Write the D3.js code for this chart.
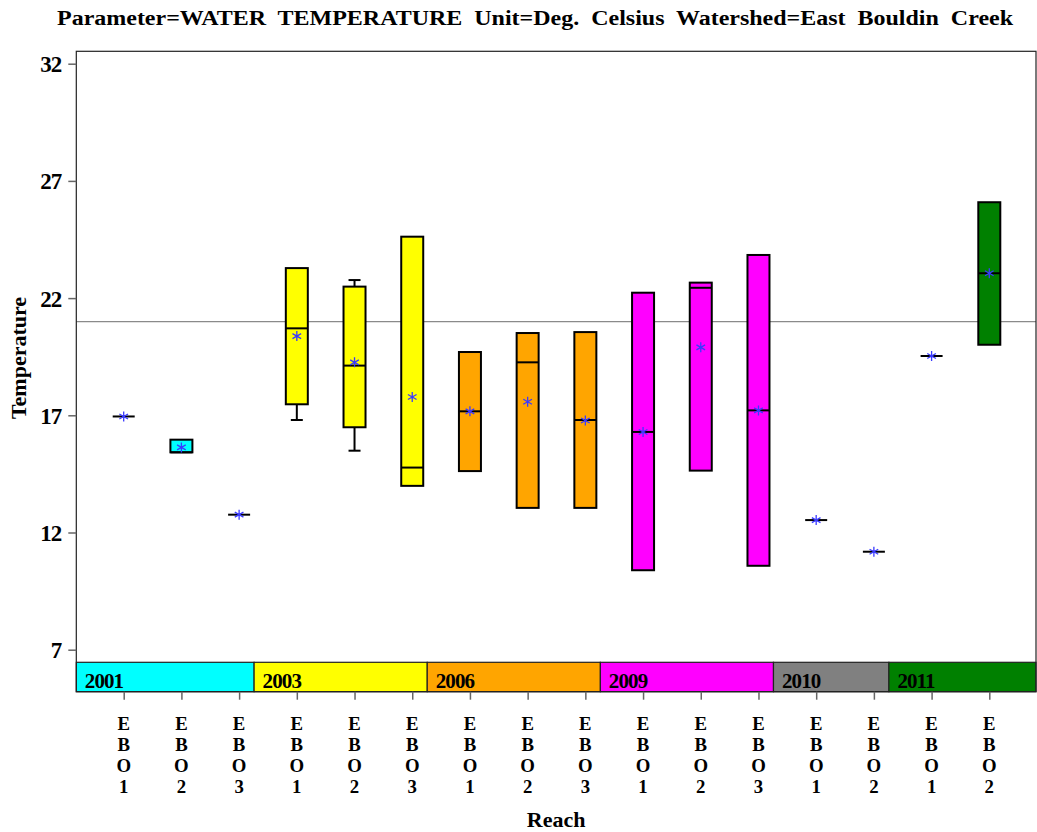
<!DOCTYPE html>
<html>
<head>
<meta charset="utf-8">
<script src="https://cdn.jsdelivr.net/npm/d3@7"></script>
<style>
html, body { margin: 0; padding: 0; background: #fff; }
svg { display: block; }
text { font-family: "Liberation Serif", "DejaVu Serif", serif; font-weight: bold; fill: #000; }
</style>
</head>
<body>
<svg id="chart" width="1037" height="832"></svg>
<script>
// ---- data ----
const reaches = ["EBO1","EBO2","EBO3","EBO1","EBO2","EBO3","EBO1","EBO2","EBO3","EBO1","EBO2","EBO3","EBO1","EBO2","EBO1","EBO2"];
const years   = ["2001","2001","2001","2003","2003","2003","2006","2006","2006","2009","2009","2009","2010","2010","2011","2011"];
const minVals = [16.95,15.42,12.76,16.80,15.49,13.99,14.62,13.05,13.05,10.39,14.64,10.58,12.53,11.18,19.53,20.01];
const q1Vals  = [16.95,15.42,12.76,17.47,16.49,13.99,14.62,13.05,13.05,10.39,14.64,10.58,12.53,11.18,19.53,20.01];
const medVals = [16.95,15.42,12.76,20.71,19.12,14.77,17.17,19.26,16.80,16.29,22.44,17.21,12.53,11.18,19.53,23.06];
const q3Vals  = [16.95,15.96,12.76,23.28,22.49,24.62,19.70,20.51,20.55,22.23,22.66,23.84,12.53,11.18,19.53,26.09];
const maxVals = [16.95,15.96,12.76,23.28,22.77,24.62,19.70,20.51,20.55,22.23,22.66,23.84,12.53,11.18,19.53,26.09];
const meanVals= [16.95,15.63,12.76,20.38,19.26,17.78,17.17,17.58,16.78,16.29,19.90,17.21,12.53,11.18,19.53,23.06];
const yearGroups = ["2001","2003","2006","2009","2010","2011"];
const yearColors = ["#00FFFF","#FFFF00","#FFA500","#FF00FF","#808080","#008000"];
const yTicks = [7,12,17,22,27,32];
const refValue = 21;
const titleText = "Parameter=WATER  TEMPERATURE  Unit=Deg.  Celsius  Watershed=East  Bouldin  Creek";
const xTitle = "Reach";
const yTitle = "Temperature";

// ---- layout ----
const svg = d3.select("#chart");
const L = 76.3, R = 1036, T = 51.3, B = 691.7, stripTop = 662.3;
const x = d3.scaleLinear().domain([1, 16]).range([123.7, 989.3]);
const y = d3.scaleLinear().domain([7, 32]).range([649.7, 63.7]);
const color = d3.scaleOrdinal().domain(yearGroups).range(yearColors);
const boxW = 22, capW = 12;

const data = reaches.map((r, i) => ({
  i: i + 1, reach: r, year: years[i],
  min: minVals[i], q1: q1Vals[i], med: medVals[i], q3: q3Vals[i], max: maxVals[i], mean: meanVals[i]
}));

// title
svg.append("text").attr("x", (57 + 1013) / 2).attr("y", 24.5)
  .attr("text-anchor", "middle").attr("font-size", 20)
  .attr("textLength", 956).attr("lengthAdjust", "spacingAndGlyphs")
  .style("white-space", "pre").text(titleText);

// reference line
svg.append("line").attr("x1", L).attr("x2", R)
  .attr("y1", y(refValue)).attr("y2", y(refValue))
  .attr("stroke", "#8a8a8a").attr("stroke-width", 1.2);

// boxes, whiskers, medians, means
const g = svg.append("g");
data.forEach(d => {
  if (d.max > d.q3) {
    g.append("line").attr("x1", x(d.i)).attr("x2", x(d.i)).attr("y1", y(d.q3)).attr("y2", y(d.max)).attr("stroke", "#000").attr("stroke-width", 2);
    g.append("line").attr("x1", x(d.i) - capW/2).attr("x2", x(d.i) + capW/2).attr("y1", y(d.max)).attr("y2", y(d.max)).attr("stroke", "#000").attr("stroke-width", 2);
  }
  if (d.min < d.q1) {
    g.append("line").attr("x1", x(d.i)).attr("x2", x(d.i)).attr("y1", y(d.q1)).attr("y2", y(d.min)).attr("stroke", "#000").attr("stroke-width", 2);
    g.append("line").attr("x1", x(d.i) - capW/2).attr("x2", x(d.i) + capW/2).attr("y1", y(d.min)).attr("y2", y(d.min)).attr("stroke", "#000").attr("stroke-width", 2);
  }
  if (d.q3 > d.q1) {
    g.append("rect").attr("x", x(d.i) - boxW/2).attr("width", boxW)
      .attr("y", y(d.q3)).attr("height", y(d.q1) - y(d.q3))
      .attr("fill", color(d.year)).attr("stroke", "#000").attr("stroke-width", 2);
  }
  g.append("line").attr("x1", x(d.i) - boxW/2).attr("x2", x(d.i) + boxW/2)
    .attr("y1", y(d.med)).attr("y2", y(d.med)).attr("stroke", "#000").attr("stroke-width", 2);
  const cx = x(d.i), cy = y(d.mean), s = 5;
  const a = s * Math.cos(Math.PI / 6), b = s * Math.sin(Math.PI / 6);
  g.append("path")
    .attr("d", `M${cx},${cy - s}L${cx},${cy + s}M${cx - a},${cy - b}L${cx + a},${cy + b}M${cx - a},${cy + b}L${cx + a},${cy - b}`)
    .attr("stroke", "#3a3aff").attr("stroke-width", 1.3).attr("fill", "none");
});

// year strip
const groupEnds = yearGroups.map(yr => d3.max(data.filter(d => d.year === yr), d => d.i));
const groupStarts = groupEnds.map((e, k) => k === 0 ? L : x(groupEnds[k - 1] + 0.26));
yearGroups.forEach((yr, k) => {
  const x0 = groupStarts[k];
  const x1 = k === yearGroups.length - 1 ? R : x(groupEnds[k] + 0.26);
  svg.append("rect").attr("x", x0).attr("y", stripTop).attr("width", x1 - x0).attr("height", B - stripTop)
    .attr("fill", color(yr)).attr("stroke", "#222").attr("stroke-width", 1.2);
  svg.append("text").attr("x", x0 + 8.5).attr("y", 688).attr("font-size", 21)
    .attr("letter-spacing", -0.9).text(yr);
});

// frame
svg.append("rect").attr("x", L).attr("y", T).attr("width", R - L).attr("height", B - T)
  .attr("fill", "none").attr("stroke", "#222").attr("stroke-width", 1.2);

// y axis
const yAxis = d3.axisLeft(y).tickValues(yTicks).tickSize(8).tickPadding(7).tickFormat(d3.format("d"));
const ya = svg.append("g").attr("transform", `translate(${L},0)`).call(yAxis);
ya.select(".domain").remove();
ya.selectAll(".tick line").attr("stroke", "#666").attr("stroke-width", 1.5);
ya.selectAll(".tick text").attr("font-size", 23).attr("font-family", "Liberation Serif").attr("font-weight", "bold").attr("fill", "#000").attr("letter-spacing", -1).attr("dy", "0.35em");

// x axis ticks
const xa = svg.append("g").attr("transform", `translate(0,${B})`)
  .call(d3.axisBottom(x).tickValues(data.map(d => d.i)).tickSize(8).tickFormat(""));
xa.select(".domain").remove();
xa.selectAll(".tick line").attr("stroke", "#666").attr("stroke-width", 1.5);

// stacked x labels (one letter per line)
data.forEach(d => {
  d.reach.split("").forEach((ch, k) => {
    svg.append("text").attr("x", x(d.i)).attr("y", 730 + k * 21)
      .attr("text-anchor", "middle").attr("font-size", 18.8).text(ch);
  });
});

// axis titles
svg.append("text").attr("x", (L + R) / 2).attr("y", 826.5).attr("text-anchor", "middle").attr("font-size", 22).text(xTitle);
svg.append("text").attr("transform", "translate(25.5,358) rotate(-90)").attr("text-anchor", "middle").attr("font-size", 22).text(yTitle);
</script>
</body>
</html>
